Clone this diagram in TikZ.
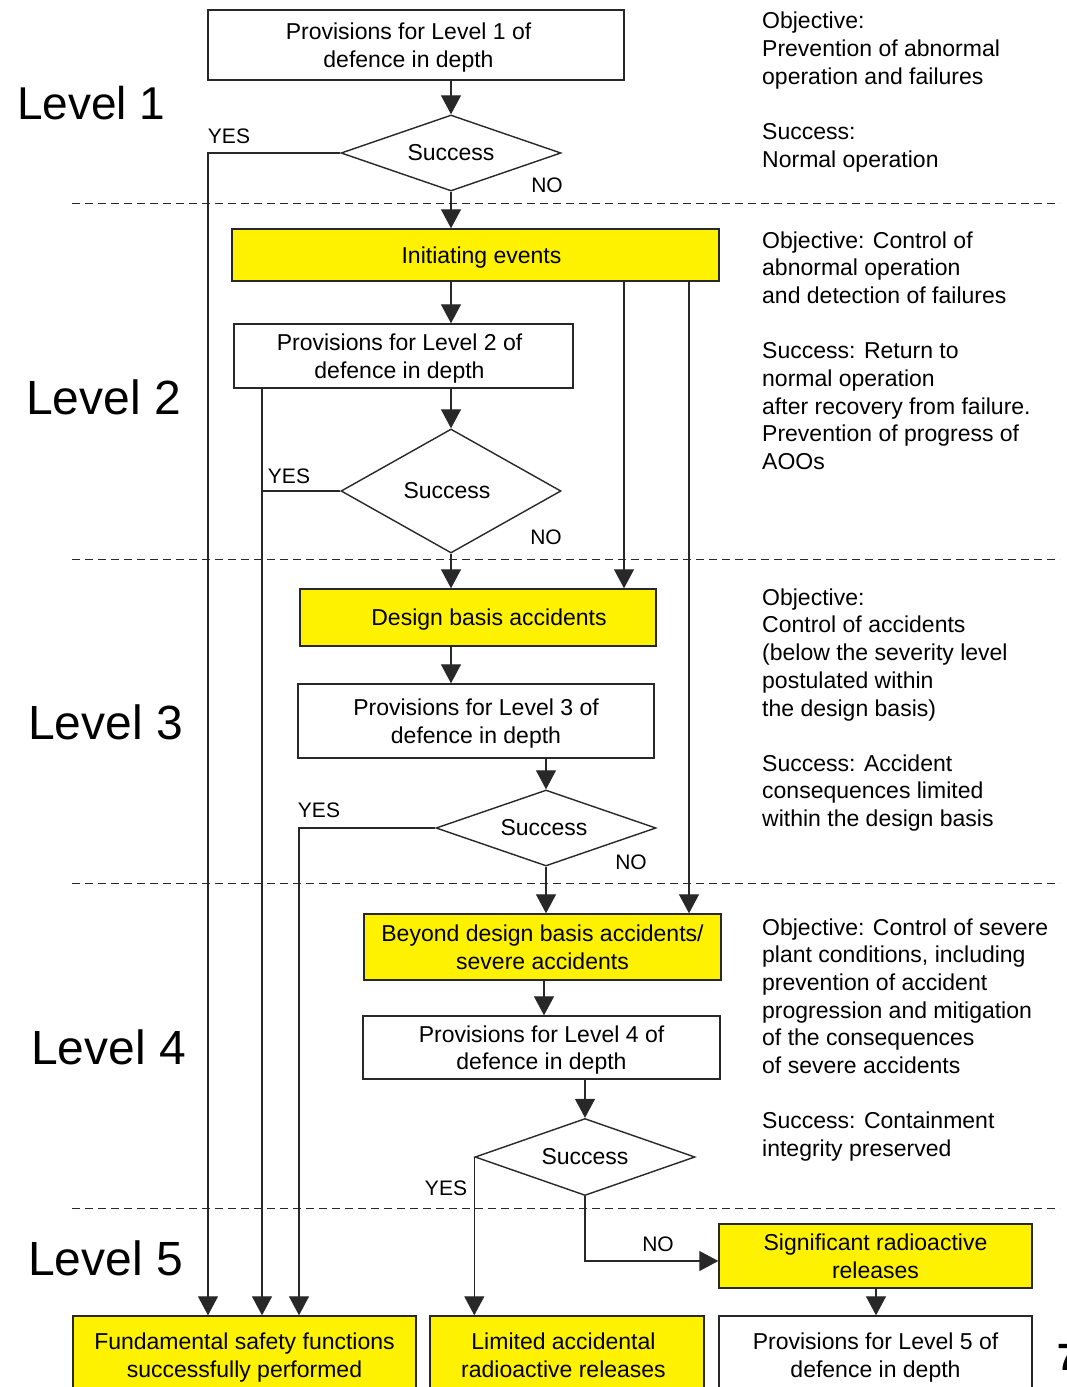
\documentclass[tikz,border=0pt]{standalone}
\usepackage{fontspec}
\setmainfont{Liberation Sans}
\usetikzlibrary{arrows.meta,shapes.geometric}
\definecolor{ylw}{RGB}{255,242,0}
\definecolor{ln}{RGB}{40,40,40}
\begin{document}
\begin{tikzpicture}[x=1pt,y=-1pt,
  box/.style={draw=ln,line width=1.4pt,fill=white,inner sep=0pt,align=center,font=\fontsize{23}{27.6}\selectfont,
    text depth=0pt},
  ybox/.style={box,fill=ylw},
  dia/.style={draw=ln,line width=1.4pt,diamond,inner sep=0pt,font=\fontsize{23}{27.6}\selectfont},
  conn/.style={draw=ln,line width=1.2pt},
  arr/.style={conn,-{Triangle[width=20pt,length=19pt]}},
  lbl/.style={font=\fontsize{21}{25}\selectfont,inner sep=0pt},
  lvl/.style={font=\fontsize{48}{52}\selectfont,anchor=base west,inner sep=0pt},
  note/.style={font=\fontsize{23}{27.7}\selectfont,anchor=base west,align=left,inner sep=0pt},
  sep/.style={draw=ln,line width=1pt,dash pattern=on 8pt off 5pt}]
\useasboundingbox (0,0) rectangle (1066,1387);
\clip (0,0) rectangle (1066,1387);
\fill[white] (0,0) rectangle (1066,1387);

% separators
\draw[sep] (72,203) -- (1060,203);
\draw[sep] (72,559) -- (1060,559);
\draw[sep] (72,883) -- (1060,883);
\draw[sep] (72,1208) -- (1060,1208);

% level labels
\node[lvl,font=\fontsize{46}{50}\selectfont] (lv1) at (17,119) {Level 1};
\node[lvl] (lv2) at (26,414) {Level 2};
\node[lvl] (lv3) at (28,739) {Level 3};
\node[lvl] (lv4) at (31,1064) {Level 4};
\node[lvl] (lv5) at (28,1275) {Level 5};

% helper coordinates
\coordinate (c208) at (208,0);
\coordinate (c262) at (262,0);
\coordinate (c299) at (299,0);
\coordinate (c451) at (451,0);
\coordinate (c544) at (544,0);
\coordinate (c624) at (624,0);
\coordinate (c689) at (689,0);
\coordinate (c876) at (876,0);
\coordinate (cno) at (0,1261);

% boxes
\node[box, minimum width=416pt, minimum height=70pt] (b1) at (416,45) {\hspace*{-15pt}Provisions for Level 1 of\\\hspace*{-15pt}defence in depth};
\node[dia, aspect=2.895, minimum width=220pt, minimum height=76pt] (d1) at (451,153) {Success};
\node[ybox, minimum width=487pt, minimum height=52pt] (ie) at (475.5,255) {\hspace*{12pt}Initiating events};
\node[box, minimum width=339pt, minimum height=64pt] (b2) at (403.5,356) {\hspace*{-8pt}Provisions for Level 2 of\\\hspace*{-8pt}defence in depth};
\node[dia, aspect=1.774, minimum width=220pt, minimum height=124pt] (d2) at (451,491) {\hspace*{-8pt}Success};
\node[ybox, minimum width=356pt, minimum height=57pt] (dba) at (478,617.5) {\hspace*{22pt}Design basis accidents};
\node[box, minimum width=356pt, minimum height=74pt] (b3) at (476,721) {Provisions for Level 3 of\\defence in depth};
\node[dia, aspect=2.895, minimum width=220pt, minimum height=76pt] (d3) at (546,828) {\hspace*{-4pt}Success};
\node[ybox, minimum width=357pt, minimum height=66pt] (bdba) at (542.5,947) {Beyond design basis accidents/\\severe accidents};
\node[box, minimum width=357pt, minimum height=63pt] (b4) at (541.5,1047.5) {Provisions for Level 4 of\\defence in depth};
\node[dia, aspect=2.87, minimum width=220pt, minimum height=77pt] (d4) at (585,1157) {Success};
\node[ybox, minimum width=313pt, minimum height=64pt] (sig) at (875.5,1256) {Significant radioactive\\releases};
\node[ybox, minimum width=343pt, minimum height=78pt] (fsf) at (244.5,1355) {Fundamental safety functions\\successfully performed};
\node[ybox, minimum width=274pt, minimum height=78pt] (lim) at (567,1355) {\hspace*{-7pt}Limited accidental\\\hspace*{-7pt}radioactive releases};
\node[box, minimum width=313pt, minimum height=78pt] (b5) at (875.5,1355) {Provisions for Level 5 of\\defence in depth};

% main flow arrows
\draw[arr] (b1.south -| d1.north) -- (d1.north);
\draw[arr] (d1.south) -- (ie.north -| d1.south);
\draw[arr] (ie.south -| c451) -- (b2.north -| c451);
\draw[arr] (b2.south -| d2.north) -- (d2.north);
\draw[arr] (d2.south) -- (dba.north -| d2.south);
\draw[arr] (dba.south -| c451) -- (b3.north -| c451);
\draw[arr] (b3.south -| d3.north) -- (d3.north);
\draw[arr] (d3.south) -- (bdba.north -| d3.south);
\draw[arr] (bdba.south -| c544) -- (b4.north -| c544);
\draw[arr] (b4.south -| d4.north) -- (d4.north);
\draw[arr] (sig.south -| c876) -- (b5.north -| c876);

% bypass lines from initiating events
\draw[arr] (ie.south -| c624) -- (dba.north -| c624);
\draw[arr] (ie.south -| c689) -- (bdba.north -| c689);

% YES branches
\draw[arr] (d1.west) -| (fsf.north -| c208);
\draw[arr] (b2.south -| c262) -- (fsf.north -| c262);
\draw[conn] (d2.west) -- (d2.west -| c262);
\draw[arr] (d3.west) -| (fsf.north -| c299);
\draw[arr] (d4.west) -- (d4.west |- lim.north);
% NO to significant releases
\draw[arr] (d4.south) |- (sig.west |- cno);

% YES / NO labels
\node[lbl] (y1) at (229,136) {YES};
\node[lbl] (n1) at (547,185) {NO};
\node[lbl] (y2) at (289,476) {YES};
\node[lbl] (n2) at (546,537) {NO};
\node[lbl] (y3) at (319,810) {YES};
\node[lbl] (n3) at (631,862) {NO};
\node[lbl] (y4) at (446,1188) {YES};
\node[lbl] (n4) at (658,1244) {NO};

% right-hand notes (anchored at the baseline of their last line)
\node[note] (o1) at (762,84) {Objective:\\Prevention of abnormal\\operation and failures};
\node[note] (s1) at (762,167.5) {Success:\\Normal operation};
\node[note] (o2) at (762,303.5) {Objective: Control of\\abnormal operation\\and detection of failures};
\node[note] (s2) at (762,469.5) {Success: Return to\\normal operation\\after recovery from failure.\\Prevention of progress of\\AOOs};
\node[note] (o3) at (762,716) {Objective:\\Control of accidents\\(below the severity level\\postulated within\\the design basis)};
\node[note] (s3) at (762,826.5) {Success: Accident\\consequences limited\\within the design basis};
\node[note] (o4) at (762,1073.5) {Objective: Control of severe\\plant conditions, including\\prevention of accident\\progression and mitigation\\of the consequences\\of severe accidents};
\node[note] (s4) at (762,1156) {Success: Containment\\integrity preserved};

% cut-off page number
\node[font=\fontsize{38}{40}\selectfont\bfseries,anchor=base west,inner sep=0pt] (pg) at (1057,1370) {7};
\end{tikzpicture}
\end{document}
